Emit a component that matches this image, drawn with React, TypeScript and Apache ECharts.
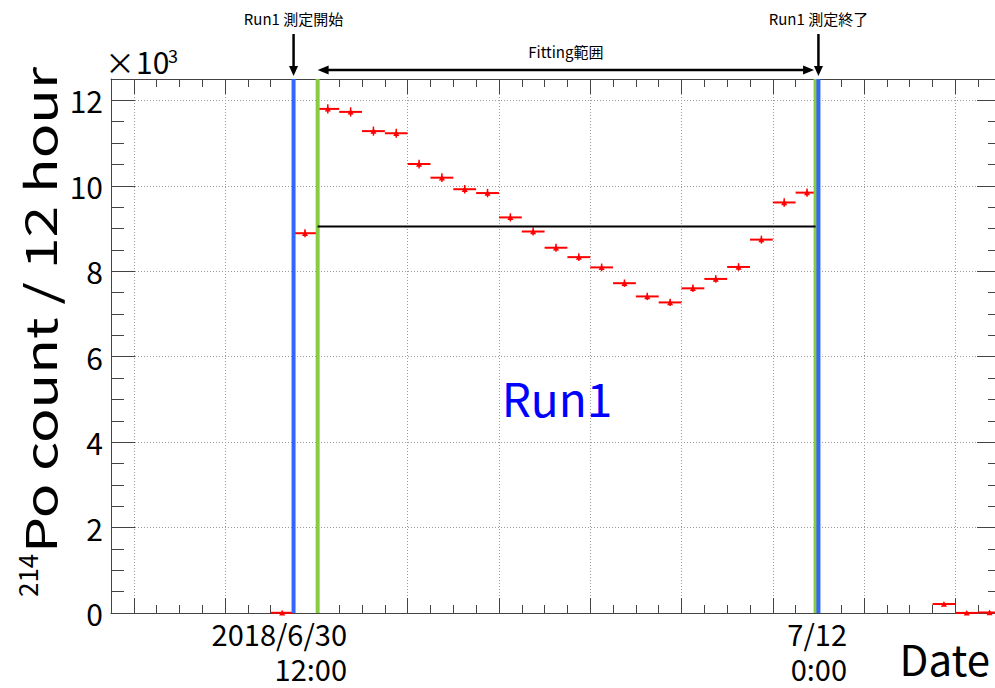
import React, { useEffect, useRef } from "react";
import * as echarts from "echarts";

// ---------- data ----------
const WINDOW_START = "2018/06/26 12:00"; // left edge of the frame
const WINDOW_END = "2018/07/16 00:00"; // right edge of the frame
const BIN_HOURS = 12;
// 214Po counts per 12 hour bin (x 10^3); null = empty bin
const counts: (number | null)[] = [
  null, null, null, null, null, null, null, 0.005, 8.89,
  11.80, 11.73, 11.28, 11.23, 10.51, 10.19, 9.92, 9.83, 9.26, 8.93,
  8.55, 8.33, 8.09, 7.72, 7.41, 7.27, 7.60, 7.82, 8.10, 8.74, 9.61, 9.84,
  null, null, null, null, null, 0.21, 0.002, 0.012,
];
const RUN_START = "2018/06/30 12:00";
const RUN_END = "2018/07/12 00:00";
const FIT_START = "2018/07/01 00:40";
const FIT_END = "2018/07/11 22:30";
const FIT_CONST = 9.05; // x 10^3
const MAJOR_TICK_DATES = [
  "2018/06/27 00:00", "2018/06/29 00:00", "2018/07/01 00:00", "2018/07/03 00:00",
  "2018/07/05 00:00", "2018/07/07 00:00", "2018/07/09 00:00", "2018/07/11 00:00",
  "2018/07/13 00:00", "2018/07/15 00:00",
];
const Y_MAJOR = [0, 2, 4, 6, 8, 10, 12];
const Y_MINOR = [0.5, 1, 1.5, 2, 2.5, 3, 3.5, 4, 4.5, 5, 5.5, 6, 6.5, 7, 7.5, 8, 8.5, 9, 9.5, 10, 10.5, 11, 11.5, 12, 12.5];
const Y_MAX = 12.5;

const FONT = "'Noto Sans CJK JP', 'Noto Sans', sans-serif";

const hours = (s: string) =>
  (new Date(s).getTime() - new Date(WINDOW_START).getTime()) / 3600000;

const X_MAX = hours(WINDOW_END);
const xMajor = MAJOR_TICK_DATES.map(hours);
const xMinor: number[] = [];
for (let h = BIN_HOURS; h < X_MAX; h += BIN_HOURS) xMinor.push(h);

const binData = counts
  .map((v, i) =>
    v == null ? null : [i * BIN_HOURS, (i + 1) * BIN_HOURS, v, Math.sqrt(v * 1000) / 1000]
  )
  .filter((d) => d !== null) as number[][];

const FRAME = "#444";
const BLUE = "#3366ff";
const GREEN = "#88cc44";

function xAx(pos: "top" | "bottom", vals: number[], len: number, line: boolean, grid: boolean) {
  return {
    type: "value",
    position: pos,
    min: 0,
    max: X_MAX,
    axisLine: { show: line, onZero: false, lineStyle: { color: FRAME, width: 1 } },
    axisTick: { show: true, inside: true, length: len, customValues: vals, lineStyle: { color: FRAME, width: 1 } },
    axisLabel: { show: false },
    splitLine: { show: grid, lineStyle: { color: "#9a9a9a", type: [1, 2], width: 1 } },
  };
}
function yAx(pos: "left" | "right", vals: number[], len: number, line: boolean, grid: boolean, label: boolean) {
  return {
    type: "value",
    position: pos,
    min: 0,
    max: Y_MAX,
    axisLine: { show: line, onZero: false, lineStyle: { color: FRAME, width: 1 } },
    axisTick: { show: true, inside: true, length: len, customValues: vals, lineStyle: { color: FRAME, width: 1 } },
    axisLabel: {
      show: label,
      customValues: Y_MAJOR,
      fontSize: 30,
      color: "#000",
      fontFamily: FONT,
      margin: 8,
      formatter: (v: number) => (v % 2 === 0 ? String(v) : ""),
    },
    splitLine: { show: grid, lineStyle: { color: "#9a9a9a", type: [1, 2], width: 1 } },
  };
}

function vline(x: number, color: string) {
  return {
    type: "line",
    data: [[x, 0], [x, Y_MAX]],
    symbol: "none",
    lineStyle: { color, width: 4 },
    silent: true,
  };
}

export default function App() {
  const ref = useRef<HTMLDivElement>(null);
  useEffect(() => {
    const chart = echarts.init(ref.current!, null, { renderer: "svg" });
    const runStart = hours(RUN_START);
    const runEnd = hours(RUN_END);
    const fitStart = hours(FIT_START);
    const fitEnd = hours(FIT_END);
    chart.setOption({
      animation: false,
      backgroundColor: "#fff",
      grid: { left: 111, top: 79, width: 890, height: 534, containLabel: false },
      xAxis: [
        xAx("bottom", xMajor, 15, true, true),
        xAx("bottom", xMinor, 8, false, false),
        xAx("top", xMajor, 15, true, false),
        xAx("top", xMinor, 8, false, false),
      ],
      yAxis: [
        yAx("left", Y_MAJOR, 24, true, true, true),
        yAx("left", Y_MINOR, 13, false, false, false),
        yAx("right", Y_MAJOR, 24, true, false, false),
        yAx("right", Y_MINOR, 13, false, false, false),
      ],
      series: [
        vline(fitStart, GREEN),
        vline(fitEnd, GREEN),
        vline(runStart, BLUE),
        vline(runEnd, BLUE),
        {
          type: "line",
          data: [[fitStart, FIT_CONST], [fitEnd, FIT_CONST]],
          symbol: "none",
          lineStyle: { color: "#000", width: 2 },
        },
        {
          type: "custom",
          dimensions: ["x0", "x1", "v", "e"],
          encode: { x: [0, 1], y: 2 },
          data: binData,
          renderItem: (params: any, api: any) => {
            const x0 = api.value(0);
            const x1 = api.value(1);
            const v = api.value(2);
            const e = api.value(3);
            const pL = api.coord([x0, v]);
            const pR = api.coord([x1, v]);
            const xm = (pL[0] + pR[0]) / 2;
            const pT = api.coord([(x0 + x1) / 2, v + e]);
            const pB = api.coord([(x0 + x1) / 2, v - e]);
            const s = 3;
            const y = pL[1];
            return {
              type: "group",
              children: [
                { type: "line", shape: { x1: pL[0], y1: y, x2: pR[0], y2: y }, style: { stroke: "#ff0000", lineWidth: 2 } },
                { type: "line", shape: { x1: xm, y1: pT[1], x2: xm, y2: pB[1] }, style: { stroke: "#ff0000", lineWidth: 1.5 } },
                {
                  type: "polygon",
                  shape: { points: [[xm, y - s], [xm - s, y + s * 0.9], [xm + s, y + s * 0.9]] },
                  style: { fill: "#ff0000" },
                },
              ],
            };
          },
        },
      ],
    });

    const px = (h: number) => chart.convertToPixel({ xAxisIndex: 0 }, h) as number;
    const xs = px(runStart);
    const xe = px(runEnd);
    const xfs = px(fitStart);
    const xfe = px(fitEnd) - 1.5;
    const txt = (text: string, x: number, y: number, size: number, align: string, extra: any = {}) => ({
      type: "text",
      x,
      y,
      style: {
        text,
        fontSize: size,
        fontFamily: FONT,
        fill: "#000",
        textAlign: align,
        textVerticalAlign: "middle",
        ...extra,
      },
    });
    const vArrow = (x: number) => [
      { type: "line", shape: { x1: x, y1: 34, x2: x, y2: 67 }, style: { stroke: "#000", lineWidth: 2.5 } },
      { type: "polygon", shape: { points: [[x - 4.5, 66], [x + 4.5, 66], [x, 76]] }, style: { fill: "#000" } },
    ];
    const ay = 70;
    const mainTitle: any = txt("Po count / 12 hour", 44, 0, 43, "left");
    mainTitle.scaleX = 1.33;
    chart.setOption({
      graphic: [
        txt("Run1 測定開始", xs, 18, 15, "center"),
        txt("Run1 測定終了", xe, 18, 15, "center"),
        ...vArrow(xs),
        ...vArrow(xe),
        { type: "line", shape: { x1: xfs + 8, y1: ay, x2: xfe - 8, y2: ay }, style: { stroke: "#000", lineWidth: 2.5 } },
        { type: "polygon", shape: { points: [[xfs, ay], [xfs + 11, ay - 4.5], [xfs + 11, ay + 4.5]] }, style: { fill: "#000" } },
        { type: "polygon", shape: { points: [[xfe, ay], [xfe - 11, ay - 4.5], [xfe - 11, ay + 4.5]] }, style: { fill: "#000" } },
        txt("Fitting範囲", (xfs + xfe) / 2, 51, 15, "center"),
        txt("×", 120, 61, 30, "center"),
        txt("10", 136, 61, 30, "left"),
        txt("3", 168, 55, 18, "left"),
        txt("Run1", 557, 397, 46, "center", { fill: "#0000ff" }),
        txt("Date", 990, 657, 42, "right"),
        txt("2018/6/30", 347, 633, 29, "right"),
        txt("12:00", 347, 668, 29, "right"),
        txt("7/12", 847, 633, 29, "right"),
        txt("0:00", 847, 668, 29, "right"),
        {
          type: "group",
          x: 38,
          y: 597,
          rotation: Math.PI / 2,
          children: [txt("214", 0, -12, 26, "left"), mainTitle],
        },
      ],
    });
    return () => chart.dispose();
  }, []);
  return (
    <div
      ref={ref}
      style={{ position: "fixed", left: 0, top: 0, width: 1010, height: 688, background: "#fff" }}
    />
  );
}
